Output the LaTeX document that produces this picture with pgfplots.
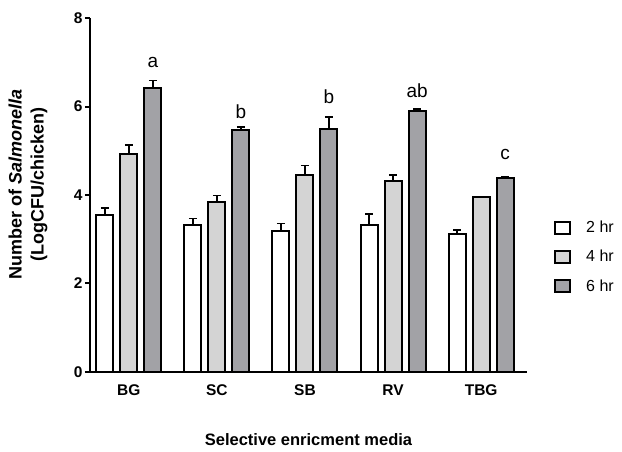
\documentclass[border=0pt]{standalone}
\usepackage{fontspec}
\setmainfont{Liberation Sans}
\usepackage{pgfplots}
\pgfplotsset{compat=1.18}
\definecolor{gfour}{HTML}{D4D4D4}
\definecolor{gsix}{HTML}{A2A2A6}
\begin{document}
\begin{tikzpicture}
\useasboundingbox (-90pt,-80pt) rectangle (532pt,372pt);
\begin{axis}[
  name=ax, at={(0,0)}, anchor=south west,
  scale only axis, width=437pt, height=354pt,
  ybar=7pt, bar width=17pt,
  ymin=0, ymax=8, xmin=-0.44, xmax=4.52,
  ytick={0,2,4,6,8}, xtick={0,1,2,3,4},
  xticklabels={BG,SC,SB,RV,TBG},
  axis x line*=bottom, axis y line*=left,
  axis line style={line width=2pt,-},
  tick align=outside, major tick length=5pt,
  tick style={line width=2pt, black},
  xtick style={yshift=5pt},
  ticklabel style={font=\bfseries\fontsize{15.5}{15.5}\selectfont},
  /pgf/number format/assume math mode=true,
  yticklabel style={xshift=1pt},
  xticklabel style={yshift=-4pt},
  xlabel={\bfseries Selective enricment media},
  xlabel style={at={(axis description cs:0.5,-0.192)}, anchor=center, font=\fontsize{16.5}{16.5}\selectfont},
  ylabel={\bfseries Number of \textit{Salmonella}\\\bfseries(LogCFU/chicken)},
  ylabel style={at={(axis description cs:-0.142,0.53)}, anchor=center, align=center, font=\fontsize{18}{22}\selectfont},
  legend style={at={(axis description cs:1.055,0.325)}, anchor=west, draw=none, fill=none,
    row sep=12pt, font=\fontsize{16}{16}\selectfont, legend cell align=left,
    /tikz/every odd column/.append style={column sep=13pt}},
  legend image code/.code={\draw[#1, line width=2pt] (0pt,-6pt) rectangle (15pt,6pt);},
  error bars/y dir=plus, error bars/y explicit,
  error bars/error bar style={line width=1.6pt, black},
  error bars/error mark options={rotate=90, mark size=4pt, line width=1.6pt, black},
]
\addplot[fill=white, draw=black, line width=2pt]
  table[x=x, y=y, y error=e] {
x y e
0 3.55 0.15
1 3.32 0.15
2 3.19 0.17
3 3.32 0.25
4 3.12 0.09
};
\addplot[fill=gfour, draw=black, line width=2pt]
  table[x=x, y=y, y error=e] {
x y e
0 4.93 0.20
1 3.84 0.15
2 4.45 0.22
3 4.32 0.13
4 3.95 0.02
};
\addplot[fill=gsix, draw=black, line width=2pt]
  table[x=x, y=y, y error=e] {
x y e
0 6.42 0.17
1 5.47 0.07
2 5.49 0.27
3 5.90 0.05
4 4.39 0.02
};
\legend{2 hr,4 hr,6 hr}
\begin{scope}[every node/.style={anchor=base, font=\fontsize{19}{19}\selectfont}]
\node at (axis cs:0.273,6.89) {a};
\node at (axis cs:1.273,5.74) {b};
\node at (axis cs:2.273,6.06) {b};
\node at (axis cs:3.273,6.21) {ab};
\node at (axis cs:4.273,4.81) {c};
\end{scope}
\end{axis}
\end{tikzpicture}
\end{document}
